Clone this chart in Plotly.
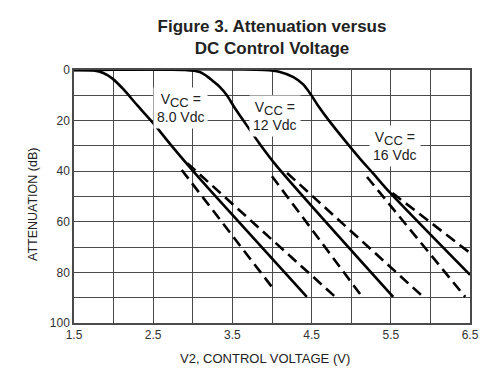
import plotly.graph_objects as go

# ---- data ----
v8_solid_x = [1.5, 1.75, 1.87, 1.99, 2.12, 2.3, 2.5, 2.72, 2.95, 3.26, 4.44]
v8_solid_y = [0, 0.2, 1.2, 3.5, 7.5, 14, 21, 29.5, 38, 49, 89.7]
v8_dash_lo_x = [2.86, 4.0]
v8_dash_lo_y = [39.5, 85.8]
v8_dash_hi_x = [2.93, 4.8]
v8_dash_hi_y = [36.8, 89.7]

v12_solid_x = [1.5, 2.9, 3.09, 3.18, 3.26, 3.34, 3.43, 3.52, 3.65, 3.84, 4.06, 5.53]
v12_solid_y = [0, 0, 0.8, 2.5, 4.5, 6.7, 10, 14.5, 20.5, 29, 38, 89.7]
v12_dash_lo_x = [4.0, 5.14]
v12_dash_lo_y = [42, 89.7]
v12_dash_hi_x = [4.19, 5.91]
v12_dash_hi_y = [40.7, 89.7]

v16_solid_x = [1.5, 3.9, 4.10, 4.27, 4.39, 4.48, 4.58, 4.72, 4.95, 5.11, 5.28, 5.49, 6.5]
v16_solid_y = [0, 0, 0.8, 2.8, 5.6, 9.2, 14, 20, 29, 35, 41, 48.5, 81]
v16_dash_lo_x = [5.2, 6.44]
v16_dash_lo_y = [42.3, 89.7]
v16_dash_hi_x = [5.52, 6.5]
v16_dash_hi_y = [48.6, 72.3]

labels = [
    "V<sub><span style='font-size:13px'>CC</span></sub> =<br>8.0 Vdc",
    "V<sub><span style='font-size:13px'>CC</span></sub> =<br>12 Vdc",
    "V<sub><span style='font-size:13px'>CC</span></sub> =<br>16 Vdc",
]
label_x = [2.84, 4.04, 5.55]
label_y = [15, 18.2, 30]

x_ticks = [1.5, 2.5, 3.5, 4.5, 5.5, 6.5]
y_ticks = [0, 20, 40, 60, 80, 100]

FONT = "Liberation Sans, Arial, sans-serif"
fig = go.Figure()

solid = dict(color="black", width=2.6)
dash = dict(color="black", width=2.6, dash="11px,6px")

for xs, ys in [(v8_solid_x, v8_solid_y), (v12_solid_x, v12_solid_y), (v16_solid_x, v16_solid_y)]:
    fig.add_trace(go.Scatter(x=xs, y=ys, mode="lines", line=dict(**solid, shape="spline", smoothing=0.8),
                             showlegend=False, hoverinfo="skip"))
for xs, ys in [(v8_dash_lo_x, v8_dash_lo_y), (v8_dash_hi_x, v8_dash_hi_y),
               (v12_dash_lo_x, v12_dash_lo_y), (v12_dash_hi_x, v12_dash_hi_y),
               (v16_dash_lo_x, v16_dash_lo_y), (v16_dash_hi_x, v16_dash_hi_y)]:
    fig.add_trace(go.Scatter(x=xs, y=ys, mode="lines", line=dash, showlegend=False, hoverinfo="skip"))

for t, x, y in zip(labels, label_x, label_y):
    fig.add_annotation(x=x, y=y, text=t, showarrow=False, bgcolor="white", borderpad=3,
                       font=dict(family=FONT, size=14, color="#222"), align="center")

# axis titles as annotations (placed as in the reference)
fig.add_annotation(xref="paper", yref="paper", x=(33 - 74) / 396, y=1 - (205 - 70) / 253,
                   text="ATTENUATION (dB)", textangle=-90, showarrow=False,
                   xanchor="center", yanchor="middle",
                   font=dict(family=FONT, size=12.5, color="#222"))
fig.add_annotation(xref="paper", yref="paper", x=(265 - 74) / 396, y=-(358 - 323) / 253,
                   text="V2, CONTROL VOLTAGE (V)", showarrow=False,
                   xanchor="center", yanchor="middle",
                   font=dict(family=FONT, size=13, color="#222"))

grid_color = "#4a4a4a"
# page body has an 8px margin, so the figure is sized/offset to compensate
fig.update_layout(
    width=492, height=382,
    margin=dict(l=66, r=30, t=62, b=67, autoexpand=False),
    paper_bgcolor="white", plot_bgcolor="white",
    title=dict(text="<b>Figure 3. Attenuation versus<br>DC Control Voltage</b>",
               x=(272 - 8) / 492, xref="container", xanchor="center", y=1 - 24 / 382, yanchor="top",
               font=dict(family=FONT, size=17, color="#222")),
    xaxis=dict(range=[1.5, 6.5], tickvals=x_ticks, ticktext=[str(v) for v in x_ticks],
               showgrid=True, gridcolor=grid_color, gridwidth=1.3,
               minor=dict(dtick=0.5, tick0=1.5, showgrid=True, gridcolor=grid_color, gridwidth=1.3),
               showline=True, linecolor=grid_color, linewidth=1.5, mirror=True,
               zeroline=False, ticks="", ticklen=0, automargin=False,
               tickfont=dict(family=FONT, size=12, color="#333")),
    yaxis=dict(range=[100, 0], tickvals=y_ticks, ticktext=[str(v) for v in y_ticks],
               showgrid=True, gridcolor=grid_color, gridwidth=1.3,
               minor=dict(dtick=10, tick0=0, showgrid=True, gridcolor=grid_color, gridwidth=1.3),
               showline=True, linecolor=grid_color, linewidth=1.5, mirror=True,
               zeroline=False, ticks="", ticklen=0, automargin=False,
               tickfont=dict(family=FONT, size=12, color="#333")),
)

fig.write_html("out.html")
